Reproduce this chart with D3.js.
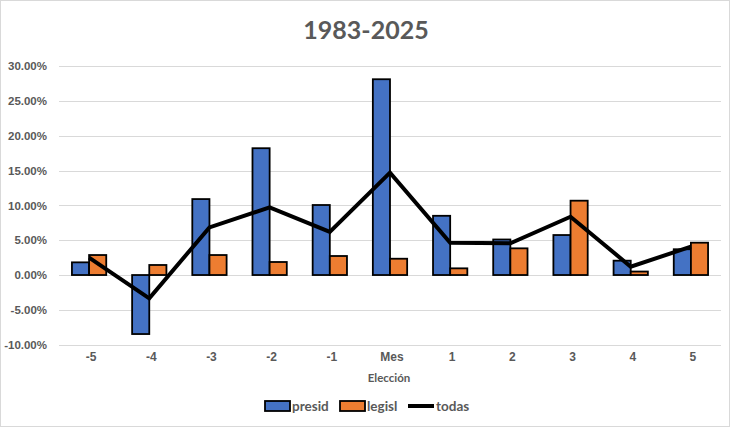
<!DOCTYPE html>
<html><head><meta charset="utf-8">
<script src="https://cdn.jsdelivr.net/npm/d3@7"></script>
<style>body{margin:0;background:#fff;}svg{display:block;font-family:Lato,"Open Sans",sans-serif;}</style>
</head><body>
<svg id="c" width="730" height="427"></svg>
<script>
const categories = ["-5","-4","-3","-2","-1","Mes","1","2","3","4","5"];
const presid = [1.82,-8.47,10.9,18.2,10.05,28.1,8.5,5.1,5.74,2.06,3.7];
const legisl = [2.87,1.44,2.87,1.87,2.73,2.34,0.96,3.83,10.67,0.5,4.64];
const todas  = [2.5,-3.35,6.84,9.7,6.2,14.7,4.64,4.55,8.37,1.2,4.07];
const yTicks = [-10,-5,0,5,10,15,20,25,30];

const svg = d3.select("#c");
svg.append("rect").attr("x",0.5).attr("y",0.5).attr("width",729).attr("height",426)
  .attr("fill","#fff").attr("stroke","#d9d9d9");

const x = d3.scaleBand().domain(categories).range([59,721]).paddingInner(0.43).paddingOuter(0.215);
const xc = d3.scaleBand().domain(categories).range([59,721]);
const y = d3.scaleLinear().domain([-10,30]).range([344.7,66]);
const sub = d3.scaleBand().domain(["p","l"]).range([0,x.bandwidth()]);

svg.append("g").selectAll("line").data(yTicks).join("line")
  .attr("x1",59).attr("x2",721).attr("y1",d=>Math.round(y(d))+0.5).attr("y2",d=>Math.round(y(d))+0.5)
  .attr("stroke","#d9d9d9").attr("stroke-width",1);

const ya = d3.axisLeft(y).tickValues(yTicks).tickSize(0).tickPadding(0).tickFormat(d=>d.toFixed(2)+"%");
const yg = svg.append("g").attr("transform","translate(47,0)").call(ya);
yg.select(".domain").remove();
yg.selectAll("text").attr("fill","#595959").attr("font-size","11.5px").attr("font-weight","bold");

const xa = d3.axisBottom(xc).tickSize(0).tickPadding(0);
const xg = svg.append("g").attr("transform","translate(2,352)").call(xa);
xg.select(".domain").remove();
xg.selectAll("text").attr("fill","#595959").attr("font-size","12px").attr("font-weight","bold");

svg.append("text").attr("x",389).attr("y",382).attr("text-anchor","middle")
  .attr("fill","#595959").attr("font-size","11.5px").attr("font-weight","bold").text("Elección");

const rows = categories.map((c,i)=>({c,p:presid[i],l:legisl[i]}));
const g = svg.append("g");
g.selectAll("rect.p").data(rows).join("rect").attr("class","p")
  .attr("x",d=>x(d.c)+sub("p")).attr("width",sub.bandwidth())
  .attr("y",d=>y(Math.max(0,d.p))).attr("height",d=>Math.abs(y(d.p)-y(0)))
  .attr("fill","#4472C4").attr("stroke","#000").attr("stroke-width",1.8);
g.selectAll("rect.l").data(rows).join("rect").attr("class","l")
  .attr("x",d=>x(d.c)+sub("l")).attr("width",sub.bandwidth())
  .attr("y",d=>y(Math.max(0,d.l))).attr("height",d=>Math.abs(y(d.l)-y(0)))
  .attr("fill","#ED7D31").attr("stroke","#000").attr("stroke-width",1.8);

const line = d3.line().x((d,i)=>xc(categories[i])+xc.bandwidth()/2).y(d=>y(d));
svg.append("path").datum(todas).attr("d",line).attr("fill","none")
  .attr("stroke","#000").attr("stroke-width",4).attr("stroke-linejoin","miter");

svg.append("text").attr("x",366).attr("y",39).attr("text-anchor","middle")
  .attr("fill","#595959").attr("font-size","25px").attr("font-weight","bold").text("1983-2025");

const lg = svg.append("g").attr("font-size","13.5px").attr("font-weight","bold").attr("fill","#595959");
lg.append("rect").attr("x",265).attr("y",401).attr("width",25).attr("height",10).attr("fill","#4472C4").attr("stroke","#000").attr("stroke-width",1.8);
lg.append("text").attr("x",292).attr("y",411).text("presid");
lg.append("rect").attr("x",340).attr("y",401).attr("width",25).attr("height",10).attr("fill","#ED7D31").attr("stroke","#000").attr("stroke-width",1.8);
lg.append("text").attr("x",367).attr("y",411).text("legisl");
lg.append("line").attr("x1",408).attr("x2",434).attr("y1",406).attr("y2",406).attr("stroke","#000").attr("stroke-width",4);
lg.append("text").attr("x",436).attr("y",411).text("todas");
</script>
</body></html>
